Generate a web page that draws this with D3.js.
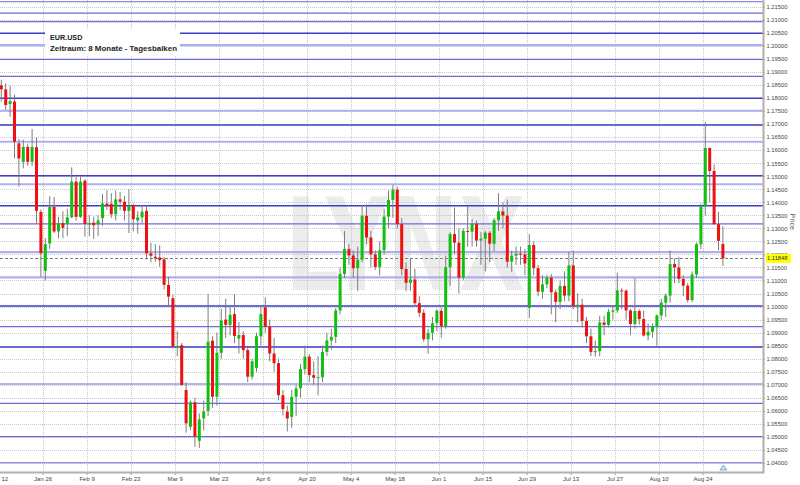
<!DOCTYPE html>
<html><head><meta charset="utf-8">
<script src="https://cdn.jsdelivr.net/npm/d3@7"></script>
<style>body{margin:0;background:#fff}svg{display:block}</style>
</head><body>
<svg id="c" width="800" height="485"></svg>
<script>
// ---------- data ----------
const firstDay = new Date(2015, 0, 12);
const lastDay = new Date(2015, 7, 28);
const opens = [1.1848,1.1833,1.1777,1.1786,1.1626,1.1555,1.1612,1.1555,1.1611,1.1363,
1.1137,1.1242,1.1382,1.1288,1.1320,1.1317,1.1342,1.1479,1.1344,1.1483,
1.1315,1.1322,1.1316,1.1339,1.1395,1.1394,1.1354,1.1411,1.1402,1.1367,
1.1389,1.1330,1.1342,1.1367,1.1204,1.1191,1.1188,1.1181,1.1083,1.1032,
1.0843,1.0852,1.0680,1.0539,1.0633,1.0485,1.0571,1.0600,1.0869,1.0654,
1.0823,1.0950,1.0929,1.0971,1.0877,1.0891,1.0833,1.0731,1.0765,1.0886,
1.0997,1.0923,1.0820,1.0783,1.0660,1.0597,1.0577,1.0654,1.0687,1.0760,
1.0808,1.0737,1.0727,1.0729,1.0826,1.0870,1.0884,1.0985,1.1125,1.1221,
1.1196,1.1147,1.1180,1.1348,1.1265,1.1200,1.1152,1.1216,1.1345,1.1409,
1.1448,1.1316,1.1144,1.1091,1.1104,1.1013,1.0976,1.0875,1.0899,1.0936,
1.0984,1.0925,1.1151,1.1278,1.1245,1.1111,1.1290,1.1287,1.1318,1.1253,
1.1260,1.1283,1.1241,1.1331,1.1365,1.1349,1.1172,1.1195,1.1203,1.1200,
1.0995,1.1236,1.1147,1.1057,1.1085,1.1111,1.1055,1.1018,1.1079,1.1042,
1.1158,1.1003,1.1007,1.0945,1.0886,1.0826,1.0829,1.0939,1.0930,1.0980,
1.0985,1.1062,1.1061,1.0985,1.0933,1.0983,1.0952,1.0889,1.0903,1.0924,
1.0966,1.1015,1.1042,1.1163,1.1150,1.1106,1.1080,1.1025,1.1123,1.1239,
1.1385,1.1608,1.1520,1.1316,1.1240];
const highs = [1.1870,1.1856,1.1846,1.1813,1.1642,1.1640,1.1625,1.1681,1.1649,1.1373,
1.1262,1.1423,1.1420,1.1345,1.1366,1.1375,1.1534,1.1497,1.1498,1.1488,
1.1350,1.1345,1.1350,1.1432,1.1446,1.1435,1.1445,1.1440,1.1424,1.1450,
1.1395,1.1365,1.1390,1.1388,1.1245,1.1240,1.1235,1.1190,1.1114,1.1045,
1.0905,1.0860,1.0710,1.0640,1.0650,1.0590,1.0640,1.1048,1.0886,1.0900,
1.0990,1.1030,1.1000,1.1048,1.0940,1.0905,1.0850,1.0800,1.0900,1.1000,
1.1035,1.0950,1.0880,1.0800,1.0680,1.0620,1.0680,1.0700,1.0780,1.0850,
1.0818,1.0790,1.0810,1.0850,1.0900,1.0915,1.0995,1.1150,1.1290,1.1240,
1.1215,1.1230,1.1390,1.1392,1.1290,1.1215,1.1250,1.1375,1.1445,1.1467,
1.1460,1.1340,1.1170,1.1185,1.1145,1.1040,1.0990,1.0915,1.0960,1.0990,
1.0995,1.1195,1.1285,1.1380,1.1300,1.1300,1.1385,1.1336,1.1330,1.1285,
1.1290,1.1290,1.1340,1.1435,1.1400,1.1410,1.1215,1.1230,1.1230,1.1220,
1.1278,1.1250,1.1160,1.1120,1.1120,1.1125,1.1065,1.1100,1.1135,1.1210,
1.1215,1.1050,1.1030,1.0960,1.0915,1.0870,1.0965,1.0965,1.0990,1.1000,
1.1130,1.1070,1.1066,1.0990,1.1110,1.0990,1.0985,1.0935,1.0935,1.0970,
1.1030,1.1050,1.1215,1.1185,1.1190,1.1120,1.1090,1.1135,1.1245,1.1395,
1.1707,1.1610,1.1545,1.1363,1.1308];
const lows = [1.1786,1.1754,1.1728,1.1568,1.1460,1.1530,1.1540,1.1539,1.1317,1.1114,
1.1100,1.1220,1.1282,1.1262,1.1262,1.1270,1.1340,1.1330,1.1340,1.1268,
1.1270,1.1260,1.1270,1.1310,1.1370,1.1340,1.1330,1.1370,1.1330,1.1282,
1.1288,1.1280,1.1320,1.1180,1.1170,1.1172,1.1152,1.1065,1.1000,1.0840,
1.0810,1.0697,1.0516,1.0525,1.0462,1.0458,1.0525,1.0580,1.0612,1.0620,
1.0800,1.0880,1.0890,1.0860,1.0820,1.0800,1.0710,1.0720,1.0750,1.0850,
1.0900,1.0790,1.0750,1.0640,1.0582,1.0521,1.0535,1.0580,1.0650,1.0740,
1.0710,1.0700,1.0660,1.0710,1.0810,1.0835,1.0860,1.0970,1.1110,1.1160,
1.1110,1.1060,1.1170,1.1240,1.1150,1.1140,1.1120,1.1200,1.1300,1.1340,
1.1300,1.1120,1.1060,1.1060,1.1000,1.0960,1.0865,1.0819,1.0870,1.0905,
1.0880,1.0915,1.1080,1.1200,1.1050,1.1100,1.1230,1.1230,1.1230,1.1160,
1.1135,1.1170,1.1210,1.1290,1.1300,1.1150,1.1133,1.1160,1.1160,1.1120,
1.0956,1.1120,1.1040,1.1030,1.1070,1.0970,1.0940,1.0990,1.1020,1.1020,
1.0990,1.0940,1.0920,1.0860,1.0810,1.0808,1.0810,1.0890,1.0920,1.0950,
1.0975,1.0990,1.0950,1.0890,1.0915,1.0930,1.0885,1.0870,1.0880,1.0850,
1.0950,1.0960,1.1015,1.1090,1.1090,1.1040,1.1015,1.1017,1.1110,1.1220,
1.1350,1.1400,1.1315,1.1216,1.1156];
const closes = [1.1833,1.1773,1.1788,1.1632,1.1568,1.1612,1.1555,1.1612,1.1367,1.1204,
1.1239,1.1382,1.1288,1.1320,1.1302,1.1342,1.1479,1.1344,1.1479,1.1317,
1.1320,1.1312,1.1330,1.1395,1.1386,1.1354,1.1411,1.1402,1.1367,1.1385,
1.1335,1.1342,1.1364,1.1204,1.1195,1.1185,1.1178,1.1083,1.1038,1.0846,
1.0849,1.0699,1.0552,1.0633,1.0501,1.0567,1.0597,1.0865,1.0654,1.0823,
1.0946,1.0930,1.0968,1.0887,1.0891,1.0833,1.0731,1.0790,1.0886,1.0971,
1.0923,1.0820,1.0783,1.0660,1.0607,1.0571,1.0654,1.0686,1.0760,1.0808,
1.0737,1.0727,1.0729,1.0826,1.0870,1.0884,1.0985,1.1125,1.1221,1.1196,
1.1147,1.1180,1.1348,1.1265,1.1200,1.1152,1.1216,1.1345,1.1409,1.1448,
1.1316,1.1144,1.1091,1.1104,1.1013,1.0976,1.0875,1.0899,1.0936,1.0984,
1.0925,1.1151,1.1278,1.1245,1.1111,1.1290,1.1287,1.1318,1.1253,1.1260,
1.1283,1.1241,1.1331,1.1365,1.1349,1.1172,1.1195,1.1203,1.1200,1.1165,
1.1236,1.1147,1.1057,1.1085,1.1111,1.1055,1.1018,1.1079,1.1042,1.1158,
1.1003,1.1007,1.0945,1.0886,1.0826,1.0829,1.0939,1.0930,1.0980,1.0985,
1.1062,1.1061,1.0985,1.0933,1.0983,1.0952,1.0889,1.0903,1.0924,1.0966,
1.1015,1.1042,1.1163,1.1150,1.1106,1.1080,1.1025,1.1123,1.1239,1.1385,
1.1608,1.1520,1.1316,1.1252,1.1185];
const tickDates = ["2015-01-12","2015-01-26","2015-02-09","2015-02-23","2015-03-09","2015-03-23",
"2015-04-06","2015-04-20","2015-05-04","2015-05-18","2015-06-01","2015-06-15","2015-06-29",
"2015-07-13","2015-07-27","2015-08-10","2015-08-24"];
const tickLabels = ["Jan 12","Jan 26","Feb 9","Feb 23","Mar 9","Mar 23","Apr 6","Apr 20","May 4",
"May 18","Jun 1","Jun 15","Jun 29","Jul 13","Jul 27","Aug 10","Aug 24"];
const priceTicks = [1.040,1.045,1.050,1.055,1.060,1.065,1.070,1.075,1.080,1.085,1.090,1.095,1.100,
1.105,1.110,1.115,1.120,1.125,1.130,1.135,1.140,1.145,1.150,1.155,1.160,1.165,1.170,1.175,1.180,
1.185,1.190,1.195,1.200,1.205,1.210,1.215];
const levels = [1.2169,1.2125,1.20925,1.2048,1.2003,1.1948,1.1883,1.1799,1.1751,1.1696,1.1632,
1.1502,1.1469,1.1387,1.1317,1.1209,1.1112,1.1002,1.0923,1.0845,1.0703,1.0629,1.0501,1.0401];
const levelKinds = ["m","m","m","d","l","m","m","d","l","d","l","d","l","d","m","l","l","d","m","d","m","m","m","m"];
const lastPrice = 1.11848;
const titleText = "EUR.USD";
const subtitleText = "Zeitraum: 8 Monate - Tagesbalken";
const axisTitle = "Price";
const watermark = "LYNX";

// ---------- build ----------
const fmtKey = d3.timeFormat("%Y-%m-%d");
const days = d3.timeDay.range(firstDay, d3.timeDay.offset(lastDay, 1)).filter(d => d.getDay() % 6 !== 0);
const bars = days.map((d, i) => ({key: fmtKey(d), o: opens[i], h: highs[i], l: lows[i], c: closes[i]}));

const W = 800, H = 485, plotRight = 763, plotBottom = 472;
const slot = 4.4, x0 = -0.9;
const x = d3.scaleBand().domain(bars.map(b => b.key)).range([x0, x0 + slot * bars.length]).padding(0);
const y = d3.scaleLinear().domain([1.03655, 1.21757]).range([plotBottom, 0]);

const svg = d3.select("#c");
svg.append("rect").attr("width", W).attr("height", H).attr("fill", "#fff");

const plot = svg.append("g");
plot.append("clipPath").attr("id", "pc").append("rect").attr("x", 0).attr("y", 0).attr("width", plotRight).attr("height", plotBottom);

// watermark
plot.append("text").attr("x", 285).attr("y", 290).text(watermark)
  .attr("font-family", "DejaVu Sans").attr("font-weight", "bold").attr("font-size", 128)
  .attr("textLength", 240).attr("lengthAdjust", "spacingAndGlyphs").attr("fill", "#ececec");

// horizontal grid
plot.append("g").selectAll("line").data(priceTicks).join("line")
  .attr("x1", 0).attr("x2", plotRight).attr("y1", d => Math.round(y(d)) + 0.5).attr("y2", d => Math.round(y(d)) + 0.5)
  .attr("stroke", "#c8c8c8").attr("stroke-width", 1).attr("stroke-dasharray", "1,1");
// vertical grid
plot.append("g").selectAll("line").data(tickDates).join("line")
  .attr("x1", d => Math.round(x(d)) + 0.5).attr("x2", d => Math.round(x(d)) + 0.5)
  .attr("y1", 0).attr("y2", plotBottom)
  .attr("stroke", "#c8c8c8").attr("stroke-width", 1).attr("stroke-dasharray", "1,1");

// blue level lines
const kindStyle = {d: ["#3d3dc8", 1.5], m: ["#6b6be0", 1.2], l: ["#aeaef0", 2.2]};
plot.append("g").selectAll("line").data(levels).join("line")
  .attr("x1", 0).attr("x2", plotRight).attr("y1", d => y(d)).attr("y2", d => y(d))
  .attr("stroke", (d, i) => kindStyle[levelKinds[i]][0])
  .attr("stroke-width", (d, i) => kindStyle[levelKinds[i]][1]);

// last price dashed line
plot.append("line").attr("x1", 0).attr("x2", plotRight).attr("y1", Math.round(y(lastPrice)) + 0.5).attr("y2", Math.round(y(lastPrice)) + 0.5)
  .attr("stroke", "#808080").attr("stroke-width", 1).attr("stroke-dasharray", "3,2");

// candles
const cg = plot.append("g").attr("clip-path", "url(#pc)");
const cx = b => x(b.key) + x.bandwidth() / 2;
cg.selectAll("line.w").data(bars).join("line").attr("class", "w")
  .attr("x1", cx).attr("x2", cx).attr("y1", b => y(b.h)).attr("y2", b => y(b.l))
  .attr("stroke", "#7d7d7d").attr("stroke-width", 1);
cg.selectAll("rect.b").data(bars).join("rect").attr("class", "b")
  .attr("x", b => cx(b) - 1.5).attr("width", 3)
  .attr("y", b => y(Math.max(b.o, b.c)))
  .attr("height", b => Math.max(1, Math.abs(y(b.o) - y(b.c))))
  .attr("fill", b => b.c >= b.o ? "#11c011" : "#ee1111");

// title box
svg.append("rect").attr("x", 45).attr("y", 29).attr("width", 135).attr("height", 26).attr("fill", "#fff");
svg.append("text").attr("x", 50).attr("y", 40).text(titleText)
  .attr("font-family", "Liberation Sans, Arial, sans-serif").attr("font-weight", "bold").attr("font-size", 7.2).attr("fill", "#222");
svg.append("text").attr("x", 50).attr("y", 51).text(subtitleText)
  .attr("font-family", "Liberation Sans, Arial, sans-serif").attr("font-weight", "bold").attr("font-size", 7.2).attr("fill", "#222")
  .attr("textLength", 127).attr("lengthAdjust", "spacingAndGlyphs");

// right axis
const ya = d3.axisRight(y).tickValues(priceTicks).tickFormat(d3.format(".5f")).tickSize(2).tickPadding(1.5);
const yg = svg.append("g").attr("transform", `translate(${plotRight},0)`).call(ya);
yg.select(".domain").remove();
yg.selectAll("line").attr("stroke", "#999");
yg.selectAll("text").attr("font-family", "Liberation Sans, Arial, sans-serif").attr("font-size", 5.8).attr("fill", "#444");
svg.append("line").attr("x1", plotRight + 0.5).attr("x2", plotRight + 0.5).attr("y1", 0).attr("y2", plotBottom + 1)
  .attr("stroke", "#b0b0b0").attr("stroke-width", 2);

// bottom axis
const xa = d3.axisBottom(x).tickValues(tickDates).tickFormat((d, i) => tickLabels[i]).tickSize(3).tickPadding(2).offset(0);
const xg = svg.append("g").attr("transform", `translate(${-x.bandwidth() / 2},${plotBottom})`).call(xa);
xg.select(".domain").remove();
xg.selectAll("line").attr("stroke", "#999");
xg.selectAll("text").attr("font-family", "Liberation Sans, Arial, sans-serif").attr("font-size", 6).attr("fill", "#444");
svg.append("line").attr("x1", 0).attr("x2", plotRight + 1).attr("y1", plotBottom + 0.5).attr("y2", plotBottom + 0.5)
  .attr("stroke", "#b0b0b0").attr("stroke-width", 2);

// last price tag
const ly = y(lastPrice);
svg.append("rect").attr("x", plotRight + 3).attr("y", ly - 4.5).attr("width", 25).attr("height", 9).attr("fill", "#ffff00");
svg.append("text").attr("x", plotRight + 4).attr("y", ly + 2).text(d3.format(".5f")(lastPrice))
  .attr("font-family", "Liberation Sans, Arial, sans-serif").attr("font-size", 5.8).attr("fill", "#333");

// axis title
svg.append("text").attr("transform", `translate(790,${y(1.1325)}) rotate(90)`).attr("text-anchor", "middle")
  .text(axisTitle).attr("font-family", "Liberation Sans, Arial, sans-serif").attr("font-size", 7).attr("fill", "#555");

// small marker triangle
const tx = cx(bars[bars.length - 1]) + 0.5;
svg.append("path").attr("d", `M${tx - 3.5},${plotBottom - 2} L${tx},${plotBottom - 7} L${tx + 3.5},${plotBottom - 2} Z`)
  .attr("fill", "#cfe0f5").attr("stroke", "#6a9ad8").attr("stroke-width", 0.8);
</script>
</body></html>
